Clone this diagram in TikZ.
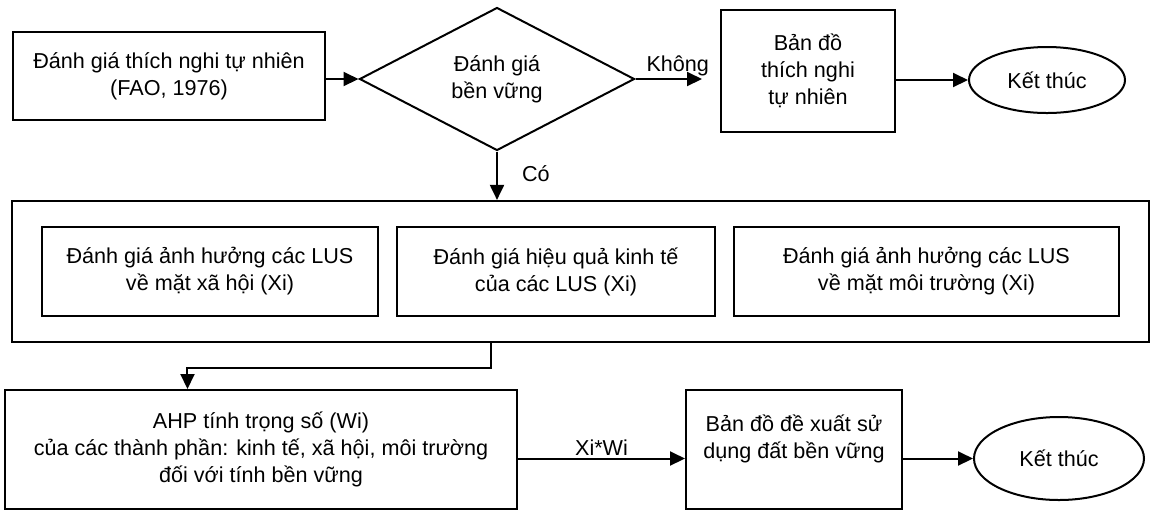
\documentclass[tikz,border=0pt]{standalone}
\usepackage{fontspec}
\setmainfont{Liberation Sans}
\usepackage{tikz}
\usetikzlibrary{
  arrows.meta,
  positioning,
  shapes.geometric,
  calc,
  fit
}
\newcommand{\flowfont}{\fontsize{10.8}{13.5}\selectfont}
\tikzset{
  procbox/.style={draw, line width=1pt, align=center,
    inner sep=2pt, font=\flowfont},
  evalbox/.style={procbox, minimum height=44.5pt},
  decbox/.style={draw, diamond, line width=1pt, align=center,
    inner sep=0pt, minimum width=137.5pt, minimum height=71.5pt,
    font=\flowfont},
  endnode/.style={draw, ellipse, line width=1pt, font=\flowfont},
  arr/.style={-{Triangle[length=7.5pt, width=7pt]}, line width=1pt},
}

\begin{document}
\begin{tikzpicture}[
  x=0.5pt, y=-0.5pt,
  lbl/.style={font=\flowfont, inner sep=1pt}
]
  \useasboundingbox (0,0) rectangle (1152,511);

  % Natural suitability and decision
  \node[procbox, minimum width=156pt, minimum height=44pt] (fao) at (169,76)
    {Đánh giá thích nghi tự nhiên\\(FAO, 1976)};
  \node[decbox] (bv) at (497,79)
    {Đánh giá\\bền vững};
  \node[procbox, minimum width=87pt, minimum height=61pt] (tnmap) at (808,71)
    {Bản đồ\\thích nghi\\tự nhiên};
  \node[endnode, minimum width=78pt, minimum height=33pt] (end1) at (1047,80)
    {Kết thúc};

  % Three evaluations of the LUS
  \node[evalbox, minimum width=168pt] (xh) at (210,271.5)
    {Đánh giá ảnh hưởng các LUS\\về mặt xã hội (Xi)};
  \node[evalbox, minimum width=159pt, right=8.5pt of xh] (kt)
    {Đánh giá hiệu quả kinh tế\\của các LUS (Xi)};
  \node[evalbox, minimum width=192.5pt, right=8.5pt of kt] (mt)
    {Đánh giá ảnh hưởng các LUS\\về mặt môi trường (Xi)};
  \node[draw, line width=1.1pt, inner xsep=14.5pt, inner ysep=12.5pt,
        fit=(xh)(kt)(mt)] (outer) {};

  % Weighting and final map
  \node[procbox, minimum width=256pt, minimum height=59.5pt] (ahp) at (261,449.5)
    {AHP tính trọng số (Wi)\\của các thành phần: kinh tế, xã hội, môi trường\\đối với tính bền vững};
  \node[procbox, minimum width=108pt, minimum height=59.5pt,
        text depth=13pt] (dx) at (794,449.5)
    {Bản đồ đề xuất sử\\dụng đất bền vững};
  \node[endnode, minimum width=85pt, minimum height=41.5pt] (end2) at (1059,458.5)
    {Kết thúc};

  % Connectors
  \draw[arr] (fao.east |- bv.west) -- (bv.west);
  \draw[arr, shorten >=9pt] (bv.east) -- (bv.east -| tnmap.west)
    node[lbl, midway, above] {Không};
  \draw[arr] (end1.west -| tnmap.east) -- (end1.west);
  \draw[arr] (bv.south) -- (bv.south |- outer.north)
    node[lbl, pos=0.45, right=11pt] {Có};
  \draw[arr] ($(outer.south west)!0.421!(outer.south east)$) -- ++(0,25)
    -| ($(ahp.north west)!0.357!(ahp.north east)$);
  \draw[arr] ([yshift=-4.5pt]ahp.east) -- ([yshift=-4.5pt]dx.west)
    node[lbl, midway, above] {Xi*Wi};
  \draw[arr] (dx.east |- end2.west) -- (end2.west);
\end{tikzpicture}
\end{document}
